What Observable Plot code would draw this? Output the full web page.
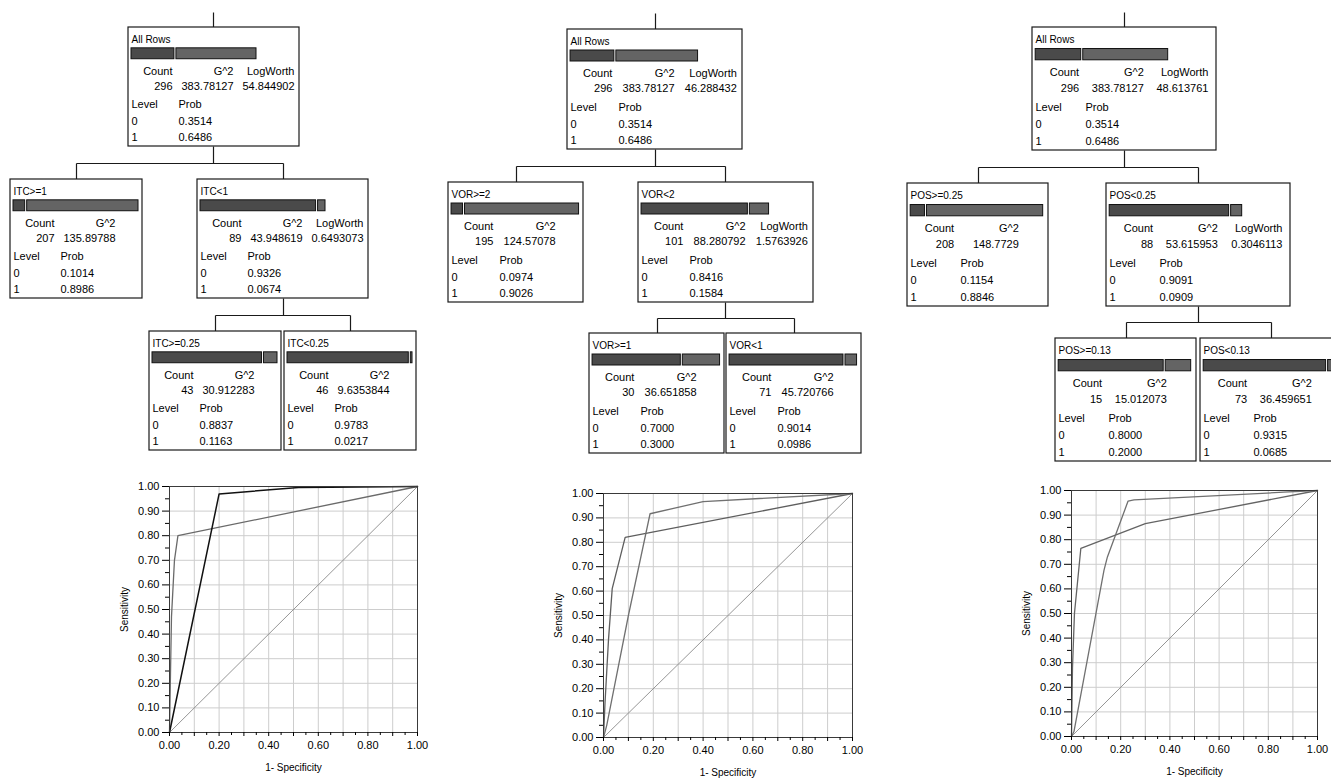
<!DOCTYPE html>
<html><head><meta charset="utf-8">
<script src="https://cdn.jsdelivr.net/npm/d3@7"></script>
<script src="https://cdn.jsdelivr.net/npm/@observablehq/plot@0.6"></script>
<style>
html,body{margin:0;padding:0;background:#fff;}
#wrap{position:relative;width:1331px;height:779px;overflow:hidden;background:#fff;}
#wrap > svg{position:absolute;max-width:none;}
</style></head><body><div id="wrap"></div>
<script>
// ---------------- DATA ----------------
// Tree 1 (ITC)
const t1Labels   = ["All Rows", "ITC>=1", "ITC<1", "ITC>=0.25", "ITC<0.25"];
const t1Parents  = [null, 0, 0, 2, 2];
const t1Counts   = [296, 207, 89, 43, 46];
const t1G2       = ["383.78127", "135.89788", "43.948619", "30.912283", "9.6353844"];
const t1LogWorth = ["54.844902", null, "0.6493073", null, null];
const t1Prob0    = ["0.3514", "0.1014", "0.9326", "0.8837", "0.9783"];
const t1Prob1    = ["0.6486", "0.8986", "0.0674", "0.1163", "0.0217"];
// Tree 2 (VOR)
const t2Labels   = ["All Rows", "VOR>=2", "VOR<2", "VOR>=1", "VOR<1"];
const t2Parents  = [null, 0, 0, 2, 2];
const t2Counts   = [296, 195, 101, 30, 71];
const t2G2       = ["383.78127", "124.57078", "88.280792", "36.651858", "45.720766"];
const t2LogWorth = ["46.288432", null, "1.5763926", null, null];
const t2Prob0    = ["0.3514", "0.0974", "0.8416", "0.7000", "0.9014"];
const t2Prob1    = ["0.6486", "0.9026", "0.1584", "0.3000", "0.0986"];
// Tree 3 (POS)
const t3Labels   = ["All Rows", "POS>=0.25", "POS<0.25", "POS>=0.13", "POS<0.13"];
const t3Parents  = [null, 0, 0, 2, 2];
const t3Counts   = [296, 208, 88, 15, 73];
const t3G2       = ["383.78127", "148.7729", "53.615953", "15.012073", "36.459651"];
const t3LogWorth = ["48.613761", null, "0.3046113", null, null];
const t3Prob0    = ["0.3514", "0.1154", "0.9091", "0.8000", "0.9315"];
const t3Prob1    = ["0.6486", "0.8846", "0.0909", "0.2000", "0.0685"];

// ROC curves (1-Specificity, Sensitivity)
const roc1AX = [0, 0.20, 0.52, 0.77, 1];
const roc1AY = [0, 0.97, 0.996, 0.998, 1];
const roc1BX = [0, 0.004, 0.008, 0.02, 0.034, 1];
const roc1BY = [0, 0.24, 0.47, 0.70, 0.80, 1];
const roc2AX = [0, 0.006, 0.02, 0.035, 0.087, 1];
const roc2AY = [0, 0.14, 0.40, 0.61, 0.82, 1];
const roc2BX = [0, 0.013, 0.10, 0.187, 0.40, 1];
const roc2BY = [0, 0.05, 0.50, 0.917, 0.967, 1];
const roc3AX = [0, 0.004, 0.012, 0.038, 0.30, 1];
const roc3AY = [0, 0.28, 0.50, 0.765, 0.865, 1];
const roc3BX = [0, 0.01, 0.132, 0.146, 0.23, 0.254, 0.862, 1];
const roc3BY = [0, 0.02, 0.675, 0.73, 0.957, 0.962, 0.993, 1];
const diagX = [0, 1];
const diagY = [0, 1];

const gridValues = [0, 0.1, 0.2, 0.3, 0.4, 0.5, 0.6, 0.7, 0.8, 0.9, 1];
const minorValues = [0.05, 0.15, 0.25, 0.35, 0.45, 0.55, 0.65, 0.75, 0.85, 0.95];
const xAxisTitle = "1- Specificity";
const yAxisTitle = "Sensitivity";
const headCount = "Count", headG2 = "G^2", headLW = "LogWorth", headLevel = "Level", headProb = "Prob";
const levelNames = ["0", "1"];

// ---------------- LAYOUT / STYLE ----------------
const FONT = "'Liberation Sans', Arial, Helvetica, sans-serif";
const treeLayouts = [
  {x0: 10,  leafW: 132, splitW: 171, gap: 7, sibGap: 3, tops: [27, 179, 331], h: 119, stemTop: 12, s: 1.0},
  {x0: 448, leafW: 135, splitW: 175, gap: 6, sibGap: 2, tops: [29, 182, 333], h: 120, stemTop: 13, s: 1.02},
  {x0: 907, leafW: 141, splitW: 184, gap: 7, sibGap: 4, tops: [27, 183, 338], h: 123, stemTop: 12, s: 1.06}
];
const levelColors = ["#4a4a4a", "#646464"];

const boxes = [], bars = [], links = [], txtStart = [], txtEnd = [], titles = [];

function buildTree(labels, parents, counts, g2, lw, p0, p1, L) {
  const n = labels.length;
  const kids = labels.map(() => []);
  parents.forEach((p, i) => { if (p !== null) kids[p].push(i); });
  const depth = parents.map((p, i) => { let d = 0; let q = p; while (q !== null) { d++; q = parents[q]; } return d; });
  const root = parents.indexOf(null);
  const left = [], right = [], spanL = [], spanR = [];
  let cursor = L.x0, prevLeaf = null;
  function visit(i) {
    if (kids[i].length === 0) {
      if (prevLeaf !== null) cursor += (parents[prevLeaf] === parents[i]) ? L.sibGap : L.gap;
      left[i] = cursor; right[i] = cursor + L.leafW; cursor = right[i]; prevLeaf = i;
      spanL[i] = left[i]; spanR[i] = right[i];
    } else {
      kids[i].forEach(visit);
      spanL[i] = Math.min(...kids[i].map(k => spanL[k]));
      spanR[i] = Math.max(...kids[i].map(k => spanR[k]));
      const c = (spanL[i] + spanR[i]) / 2;
      left[i] = c - L.splitW / 2; right[i] = c + L.splitW / 2;
    }
  }
  visit(root);
  const s = L.s, sy = L.h / 120;
  for (let i = 0; i < n; i++) {
    const x = Math.round(left[i]), x2 = Math.round(right[i]);
    const top = L.tops[depth[i]], bot = top + L.h;
    const cx = Math.round((left[i] + right[i]) / 2);
    boxes.push({x1: x, x2: x2, y1: top, y2: bot});
    const bx = x + 3 * s, bw = 125 * s, q0 = +p0[i];
    bars.push({x1: bx, x2: bx + q0 * bw - 1, y1: top + 21 * sy, y2: top + 32 * sy, lev: 0});
    bars.push({x1: bx + q0 * bw + 1, x2: bx + bw, y1: top + 21 * sy, y2: top + 32 * sy, lev: 1});
    titles.push({x: x + 3, y: top + 12 * sy, t: labels[i]});
    txtEnd.push({x: x + 44 * s, y: top + 44 * sy, t: headCount});
    txtEnd.push({x: x + 105 * s, y: top + 44 * sy, t: headG2});
    txtEnd.push({x: x + 44 * s, y: top + 59 * sy, t: String(counts[i])});
    txtEnd.push({x: x + 105 * s, y: top + 59 * sy, t: g2[i]});
    if (lw[i] !== null) {
      txtEnd.push({x: x + 166 * s, y: top + 44 * sy, t: headLW});
      txtEnd.push({x: x + 166 * s, y: top + 59 * sy, t: lw[i]});
    }
    txtStart.push({x: x + 3, y: top + 78 * sy, t: headLevel});
    txtStart.push({x: x + 50 * s, y: top + 78 * sy, t: headProb});
    txtStart.push({x: x + 3, y: top + 95 * sy, t: levelNames[0]});
    txtStart.push({x: x + 50 * s, y: top + 95 * sy, t: p0[i]});
    txtStart.push({x: x + 3, y: top + 111 * sy, t: levelNames[1]});
    txtStart.push({x: x + 50 * s, y: top + 111 * sy, t: p1[i]});
    if (i === root) links.push({x1: cx, y1: L.stemTop, x2: cx, y2: top});
    if (kids[i].length) {
      const ctop = L.tops[depth[i] + 1];
      const mid = Math.round((bot + ctop) / 2);
      const ccs = kids[i].map(k => Math.round((left[k] + right[k]) / 2));
      links.push({x1: cx, y1: bot, x2: cx, y2: mid});
      links.push({x1: Math.min(...ccs), y1: mid, x2: Math.max(...ccs), y2: mid});
      ccs.forEach(c => links.push({x1: c, y1: mid, x2: c, y2: ctop}));
    }
  }
}
buildTree(t1Labels, t1Parents, t1Counts, t1G2, t1LogWorth, t1Prob0, t1Prob1, treeLayouts[0]);
buildTree(t2Labels, t2Parents, t2Counts, t2G2, t2LogWorth, t2Prob0, t2Prob1, treeLayouts[1]);
buildTree(t3Labels, t3Parents, t3Counts, t3G2, t3LogWorth, t3Prob0, t3Prob1, treeLayouts[2]);

const wrap = document.getElementById("wrap");
const TW = 1331, TH = 470;
const treePlot = Plot.plot({
  width: TW, height: TH, margin: 0,
  x: {domain: [0, TW], range: [0, TW], axis: null},
  y: {domain: [0, TH], range: [0, TH], axis: null},
  style: {fontFamily: FONT, fontSize: "11px", background: "transparent", color: "#000"},
  marks: [
    Plot.link(links, {x1: "x1", y1: "y1", x2: "x2", y2: "y2", stroke: "#1a1a1a", strokeWidth: 1.2}),
    Plot.rect(boxes, {x1: "x1", x2: "x2", y1: "y1", y2: "y2", fill: "white", stroke: "#1a1a1a", strokeWidth: 1.2}),
    Plot.rect(bars, {x1: "x1", x2: "x2", y1: "y1", y2: "y2", fill: d => levelColors[d.lev], stroke: "#111", strokeWidth: 1}),
    Plot.text(titles, {x: "x", y: "y", text: "t", textAnchor: "start", fontSize: 10, fill: "#000"}),
    Plot.text(txtStart, {x: "x", y: "y", text: "t", textAnchor: "start", fontSize: 11, fill: "#000"}),
    Plot.text(txtEnd, {x: "x", y: "y", text: "t", textAnchor: "end", fontSize: 11, fill: "#000"})
  ]
});
treePlot.style.left = "0px"; treePlot.style.top = "0px";
wrap.appendChild(treePlot);

function pts(xs, ys) { return xs.map((x, i) => ({x, y: ys[i]})); }

function rocPlot(curves, F) {
  const mL = 60, mR = 12, mT = 8, mB = 44;
  const p = Plot.plot({
    width: F.w + mL + mR, height: F.h + mT + mB,
    marginLeft: mL, marginRight: mR, marginTop: mT, marginBottom: mB,
    x: {domain: [0, 1]}, y: {domain: [0, 1]},
    style: {fontFamily: FONT, fontSize: "11px", background: "transparent", color: "#000"},
    marks: [
      Plot.ruleX(gridValues, {stroke: "#cdcdcd", strokeWidth: 1}),
      Plot.ruleY(gridValues, {stroke: "#cdcdcd", strokeWidth: 1}),
      Plot.line(pts(diagX, diagY), {x: "x", y: "y", stroke: "#8a8a8a", strokeWidth: 0.9}),
      ...curves.map(c => Plot.line(pts(c.x, c.y), {x: "x", y: "y", stroke: c.color, strokeWidth: c.width})),
      Plot.frame({stroke: "#3a3a3a"}),
      Plot.axisX({ticks: gridValues, tickSize: 4, tickPadding: 5, label: null, fontSize: 11,
        tickFormat: d => (Math.round(d * 10) % 2 === 0 ? d.toFixed(2) : "")}),
      Plot.axisX({ticks: minorValues, tickSize: 3, label: null, tickFormat: () => ""}),
      Plot.axisY({ticks: gridValues, tickSize: 7, tickPadding: 3, label: null, fontSize: 11, tickFormat: d => d.toFixed(2)}),
      Plot.axisY({ticks: minorValues, tickSize: 4, label: null, tickFormat: () => ""}),
      Plot.text([yAxisTitle], {text: d => d, frameAnchor: "left", rotate: -90, dx: -45, textAnchor: "middle", lineAnchor: "middle", fontSize: 10}),
      Plot.text([xAxisTitle], {text: d => d, frameAnchor: "bottom", dy: 35, textAnchor: "middle", lineAnchor: "middle", fontSize: 10})
    ]
  });
  p.style.left = (F.x - mL) + "px";
  p.style.top = (F.y - mT) + "px";
  wrap.appendChild(p);
}

rocPlot([
  {x: roc1BX, y: roc1BY, color: "#6a6a6a", width: 1.3},
  {x: roc1AX, y: roc1AY, color: "#111", width: 1.5}
], {x: 169, y: 486, w: 248, h: 246});
rocPlot([
  {x: roc2AX, y: roc2AY, color: "#5e5e5e", width: 1.3},
  {x: roc2BX, y: roc2BY, color: "#707070", width: 1.3}
], {x: 603, y: 493, w: 249, h: 244});
rocPlot([
  {x: roc3AX, y: roc3AY, color: "#646464", width: 1.3},
  {x: roc3BX, y: roc3BY, color: "#707070", width: 1.3}
], {x: 1071, y: 490, w: 246, h: 246});
</script></body></html>
